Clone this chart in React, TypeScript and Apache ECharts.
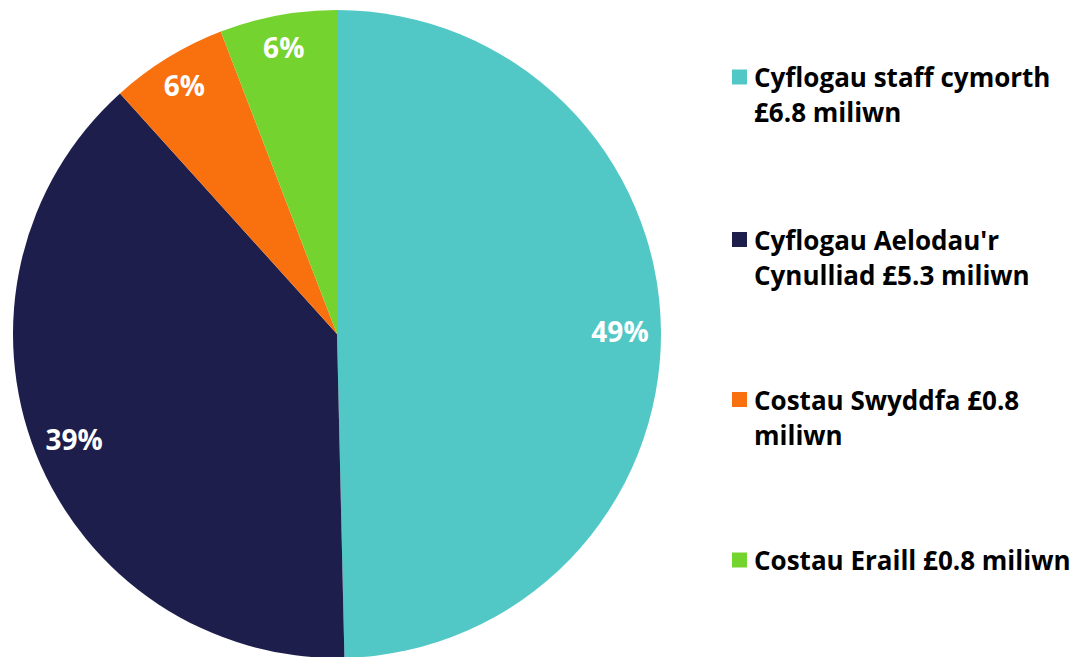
import React, { useEffect, useRef } from "react";
import * as echarts from "echarts";

const categories = [
  "Cyflogau staff cymorth £6.8 miliwn",
  "Cyflogau Aelodau'r Cynulliad £5.3 miliwn",
  "Costau Swyddfa £0.8 miliwn",
  "Costau Eraill £0.8 miliwn",
];
const legendLines = [
  ["Cyflogau staff cymorth", "£6.8 miliwn"],
  ["Cyflogau Aelodau'r", "Cynulliad £5.3 miliwn"],
  ["Costau Swyddfa £0.8", "miliwn"],
  ["Costau Eraill £0.8 miliwn"],
];
const values = [6.8, 5.3, 0.8, 0.8];
const percentLabels = ["49%", "39%", "6%", "6%"];
const colors = ["#52C8C6", "#1E1E4C", "#F9700F", "#75D32F"];

const FONT = "Open Sans";
const LH = 35;

export default function App() {
  const ref = useRef<HTMLDivElement>(null);
  useEffect(() => {
    if (!ref.current) return;
    const chart = echarts.init(ref.current, null, { renderer: "svg" });
    const data = categories.map((name, i) => ({
      name,
      value: values[i],
      itemStyle: { color: colors[i] },
    }));
    const iconCenters = [77, 239.5, 399.5, 560];
    const legends = categories.map((name, i) => {
      const lines = legendLines[i];
      const twoLine = lines.length > 1;
      const text = twoLine ? "\n" + lines.join("\n") : lines[0];
      const half = twoLine ? (3 * LH) / 2 : LH / 2;
      return {
        show: true,
        left: 732,
        top: iconCenters[i] - half,
        orient: "vertical",
        icon: "rect",
        itemWidth: 15,
        itemHeight: 15,
        padding: 0,
        selectedMode: false,
        data: [name],
        formatter: () => text,
        textStyle: {
          fontFamily: FONT,
          fontWeight: "bold",
          fontSize: 26,
          color: "#000",
          lineHeight: LH,
          padding: [0, 0, 0, 2],
        },
      };
    });
    const labelSeries = (inner: number, showIdx: number[]) => ({
      type: "pie",
      center: [337, 334],
      radius: [inner, 324],
      startAngle: 90,
      clockwise: true,
      silent: true,
      legendHoverLink: false,
      itemStyle: { color: "transparent" },
      labelLine: { show: false },
      label: {
        show: true,
        position: "inside",
        formatter: (p: any) => percentLabels[p.dataIndex],
        color: "#fff",
        fontFamily: FONT,
        fontWeight: "bold",
        fontSize: 28,
      },
      data: categories.map((name, i) => ({
        name,
        value: values[i],
        itemStyle: { color: "transparent" },
        label: { show: showIdx.includes(i) },
      })),
    });
    chart.setOption({
      animation: false,
      legend: legends,
      series: [
        {
          type: "pie",
          center: [337, 334],
          radius: [0, 324],
          startAngle: 90,
          clockwise: true,
          label: { show: false },
          labelLine: { show: false },
          silent: true,
          data,
        },
        labelSeries(236, [0, 1]),
        labelSeries(254, [2, 3]),
      ],
    });
    return () => chart.dispose();
  }, []);
  return (
    <div
      ref={ref}
      style={{ position: "absolute", left: 0, top: 0, width: 1074, height: 657 }}
    />
  );
}
